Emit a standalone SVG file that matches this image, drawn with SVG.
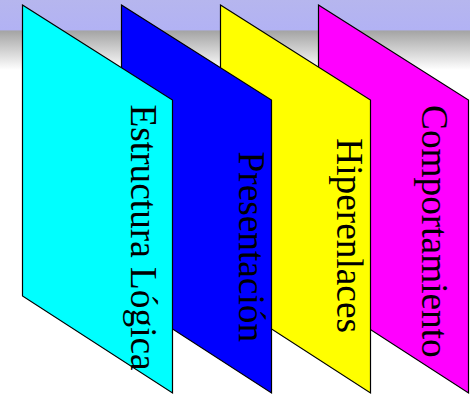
<svg xmlns="http://www.w3.org/2000/svg" width="470" height="395" viewBox="0 0 470 395">
<defs>
<linearGradient id="bg" x1="0" y1="0" x2="0" y2="1">
<stop offset="0" stop-color="#b6b6ee"/>
<stop offset="0.43" stop-color="#b2b2f4"/>
<stop offset="0.44" stop-color="#a4a4a4"/>
<stop offset="1" stop-color="#ffffff"/>
</linearGradient>
<style>
.p{stroke:#000;stroke-width:1.2;stroke-linejoin:miter}
.t{font-family:"Liberation Serif","Times New Roman",serif;font-size:37.3px;fill:#000}
</style>
</defs>
<rect x="0" y="0" width="470" height="395" fill="#ffffff"/>
<rect x="0" y="0" width="470" height="70" fill="url(#bg)"/>
<g id="comportamiento">
<polygon class="p" fill="#ff00ff" points="318.5,5 468.5,100 468.5,393 318.5,296"/>
<text class="t" transform="translate(421.5,105) rotate(90)">Comportamiento</text>
</g>
<g id="hiperenlaces">
<polygon class="p" fill="#ffff00" points="220.5,5 370.5,100 370.5,393 220.5,296"/>
<text class="t" transform="translate(337,138.3) rotate(90)">Hiperenlaces</text>
</g>
<g id="presentacion">
<polygon class="p" fill="#0000ff" points="121.5,5 271.5,100 271.5,393 121.5,296"/>
<text class="t" transform="translate(238.5,151.5) rotate(90)">Presentación</text>
</g>
<g id="estructura">
<polygon class="p" fill="#00ffff" points="22.5,5 172.5,100 172.5,393 22.5,296"/>
<text class="t" transform="translate(130.5,104.5) rotate(90)">Estructura Lógica</text>
</g>
<g id="connectors"/>
</svg>
